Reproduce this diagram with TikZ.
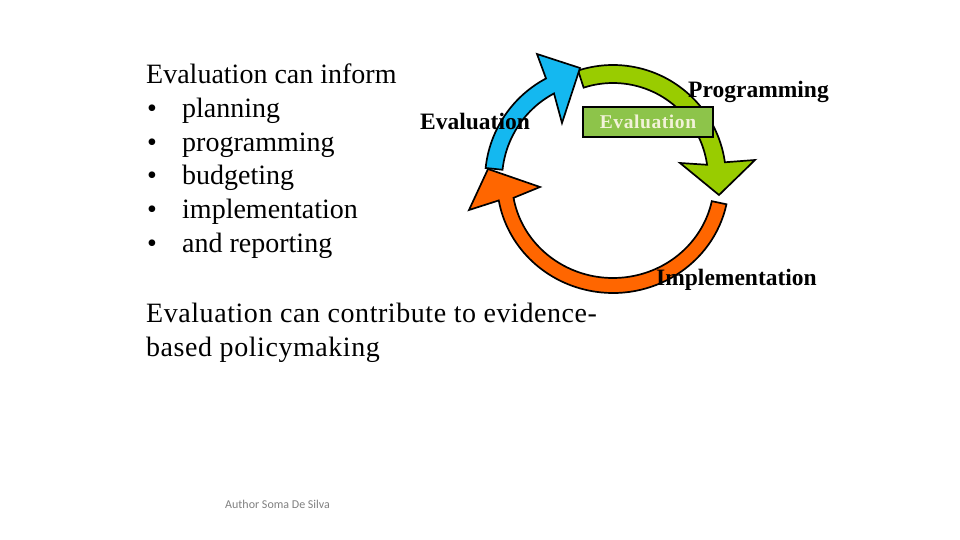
\documentclass[tikz,border=0pt]{standalone}
\usepackage{fontspec}
\setmainfont{Liberation Serif}
\newfontfamily\authorfont{Carlito}
\usetikzlibrary{calc}
\definecolor{cycblue}{HTML}{14B8F0}
\definecolor{cycgreen}{HTML}{99CC00}
\definecolor{cycorange}{HTML}{FF6600}
\definecolor{boxgreen}{HTML}{8DC44A}
\definecolor{boxtext}{HTML}{F2F2D8}
\definecolor{authorgray}{HTML}{7F7F7F}
\begin{document}
\begin{tikzpicture}[x=1pt,y=-1pt,
  bodytext/.style={anchor=base west, inner sep=0pt,
    font=\fontsize{28}{33}\selectfont},
  cyclelabel/.style={anchor=base west, inner sep=0pt,
    font=\fontsize{23.5}{28}\selectfont\bfseries},
  ringpart/.style={draw=black, line width=1.7pt, line join=miter},
  gbox/.style={draw=black, line width=1.8pt, fill=boxgreen, text=boxtext,
    minimum width=130pt, minimum height=30pt, inner sep=0pt,
    font=\fontsize{19.5}{23}\selectfont\bfseries\addfontfeature{LetterSpace=3}},
  authortext/.style={anchor=base west, inner sep=0pt, text=authorgray,
    font=\authorfont\fontsize{12}{14}\selectfont}]
\useasboundingbox (0,0) rectangle (960,540);

% green arrow (top right)
\filldraw[ringpart, fill=cycgreen]
  ($(613,178)+(-108:113)$) arc[start angle=-108, end angle=-8, radius=113]
  -- (755,160) -- (719,195) -- (680,163)
  -- ($(613,178)+(-8:95)$) arc[start angle=-8, end angle=-108, radius=95]
  -- cycle;

% orange arrow (bottom)
\filldraw[ringpart, fill=cycorange]
  ($(613,181)+(12:116 and 112)$) arc[start angle=12, end angle=170, x radius=116, y radius=112]
  -- (469,210) -- (488,169) -- (540,187)
  -- ($(613,181)+(170:101 and 97)$) arc[start angle=170, end angle=12, x radius=101, y radius=97]
  -- cycle;

% blue arrow (left)
\filldraw[ringpart, fill=cycblue]
  ($(600,180)+(186:115)$) arc[start angle=186, end angle=242, radius=115]
  -- (537,54) -- (580,68) -- (562,123)
  -- ($(600,180)+(242:98)$) arc[start angle=242, end angle=186, radius=98]
  -- cycle;

\node[gbox] (box) at (648,122) {Evaluation};

\node[cyclelabel] (lEval) at (420,130) {Evaluation};
\node[cyclelabel] (lProg) at (688,98) {Programming};
\node[cyclelabel] (lImpl) at (656,285) {Implementation};

% left text
\node[bodytext] (t0) at (146,84) {Evaluation can inform};
\node[bodytext] (b1) at (147,117.6) {•};
\node[bodytext] (t1) at (182,117.6) {planning};
\node[bodytext] (b2) at (147,151.2) {•};
\node[bodytext] (t2) at (182,151.2) {programming};
\node[bodytext] (b3) at (147,184.8) {•};
\node[bodytext] (t3) at (182,184.8) {budgeting};
\node[bodytext] (b4) at (147,218.4) {•};
\node[bodytext] (t4) at (182,218.4) {implementation};
\node[bodytext] (b5) at (147,252) {•};
\node[bodytext] (t5) at (182,252) {and reporting};

\node[bodytext, font=\fontsize{28}{33}\selectfont\addfontfeature{LetterSpace=2}] (c1) at (146,322) {Evaluation can contribute to evidence-};
\node[bodytext, font=\fontsize{28}{33}\selectfont\addfontfeature{LetterSpace=2}] (c2) at (146,356) {based policymaking};

\node[authortext] (auth) at (225,508) {Author Soma De Silva};
\end{tikzpicture}
\end{document}
